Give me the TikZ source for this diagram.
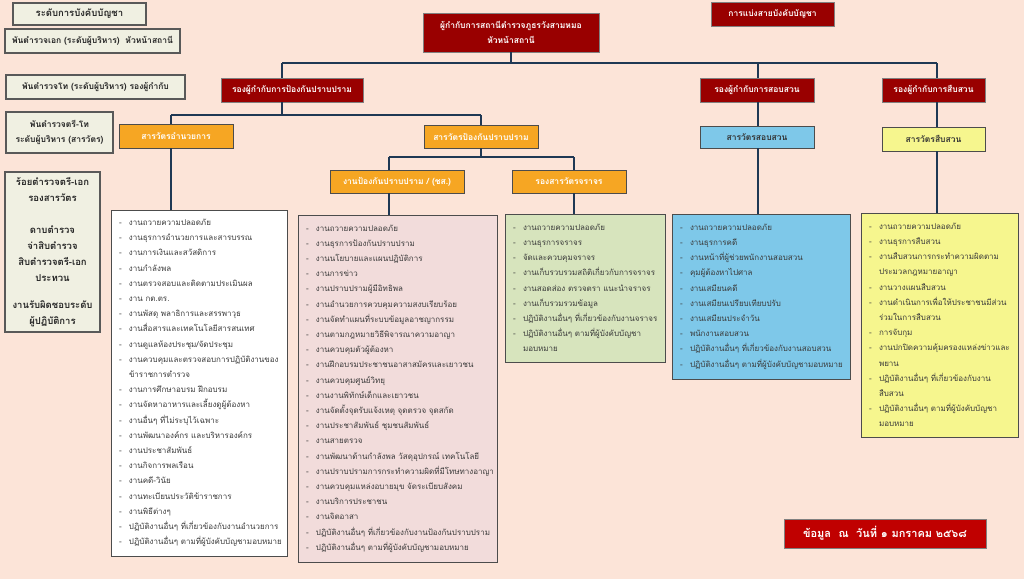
\documentclass[tikz,border=0pt]{standalone}
\usepackage{fontspec}
\setmainfont[Script=Thai]{Loma}
\usetikzlibrary{positioning}
\definecolor{peach}{RGB}{252,228,216}
\definecolor{chiefred}{RGB}{153,0,0}
\definecolor{datered}{RGB}{192,0,0}
\definecolor{secorange}{RGB}{246,166,35}
\definecolor{secblue}{RGB}{126,200,233}
\definecolor{secyellow}{RGB}{246,246,142}
\definecolor{rankfill}{RGB}{240,240,226}
\definecolor{listpink}{RGB}{242,220,219}
\definecolor{listgreen}{RGB}{215,228,189}
\definecolor{linkblue}{RGB}{31,56,84}
\definecolor{txtgray}{RGB}{58,58,58}
\newcommand{\itm}[1]{\mbox{\makebox[10pt][l]{-}#1}}
\newcommand{\cnt}[1]{\mbox{\hspace*{10pt}#1}}
\tikzset{
    rankbox/.style={draw=black!65, line width=1.1pt, fill=rankfill, text=black!85,
        align=center, inner sep=0pt, font=\bfseries\fontsize{8.5}{15}\selectfont},
    chief/.style={draw=black!50, line width=0.6pt, fill=chiefred, text=white,
        align=center, inner sep=0pt, font=\bfseries\fontsize{8.5}{15}\selectfont},
    secbox/.style={draw=black!70, line width=0.8pt, text=white,
        align=center, inner sep=0pt, font=\bfseries\fontsize{8.5}{15}\selectfont},
    duties/.style={draw=black!70, line width=0.9pt, text=txtgray, align=left,
        inner ysep=0pt, inner xsep=8pt, font=\fontsize{8}{15.2}\selectfont},
    link/.style={draw=linkblue, line width=2.2pt},
}
\begin{document}
\begin{tikzpicture}[x=1pt, y=-1pt]
	\useasboundingbox[fill=peach] (0,0) rectangle (1024,579);
	% legend of ranks
	\node[rankbox, minimum width=133, minimum height=22, font=\bfseries\fontsize{9.5}{15}\selectfont] (rank0) at (79.5,14) {ระดับการบังคับบัญชา};
	\node[rankbox, minimum width=175, minimum height=24] (rank1) at (92.5,41) {พันตำรวจเอก (ระดับผู้บริหาร)~~หัวหน้าสถานี};
	\node[rankbox, minimum width=179, minimum height=24] (rank2) at (95.5,87) {พันตำรวจโท (ระดับผู้บริหาร) รองผู้กำกับ};
	\node[rankbox, minimum width=107, minimum height=41] (rank3) at (59.5,132.5) {พันตำรวจตรี-โท\\ระดับผู้บริหาร (สารวัตร)};
	\node[rankbox, minimum width=95, minimum height=160, font=\bfseries\fontsize{9.5}{16}\selectfont] (rank4) at (52.5,252)
		{ร้อยตำรวจตรี-เอก\\รองสารวัตร\\[16pt]ดาบตำรวจ\\จ่าสิบตำรวจ\\สิบตำรวจตรี-เอก\\ประทวน\\[11pt]งานรับผิดชอบระดับ\\ผู้ปฏิบัติการ};
	% chain of command
	\node[chief, minimum width=176, minimum height=39] (top) at (511,32.5) {ผู้กำกับการสถานีตำรวจภูธรวังสามหมอ\\หัวหน้าสถานี};
	\node[chief, minimum width=123, minimum height=24] (title) at (772.5,14) {การแบ่งสายบังคับบัญชา};
	\node[chief, minimum width=142, minimum height=24] (dep1) at (292,90) {รองผู้กำกับการป้องกันปราบปราม};
	\node[chief, minimum width=114, minimum height=24] (dep2) at (757,90) {รองผู้กำกับการสอบสวน};
	\node[chief, minimum width=103, minimum height=24] (dep3) at (933.5,90) {รองผู้กำกับการสืบสวน};
	\node[secbox, fill=secorange, minimum width=114, minimum height=24] (sec1) at (176,136) {สารวัตรอำนวยการ};
	\node[secbox, fill=secorange, minimum width=114, minimum height=23] (sec2) at (481,136.5) {สารวัตรป้องกันปราบปราม};
	\node[secbox, fill=secblue, text=black!80, minimum width=114, minimum height=22] (sec3) at (757,137) {สารวัตรสอบสวน};
	\node[secbox, fill=secyellow, text=black!80, minimum width=103, minimum height=24] (sec4) at (933.5,139) {สารวัตรสืบสวน};
	\node[secbox, fill=secorange, minimum width=134, minimum height=23] (unit1) at (397,181.5) {งานป้องกันปราบปราม / (ชส.)};
	\node[secbox, fill=secorange, minimum width=114, minimum height=23] (unit2) at (569,181.5) {รองสารวัตรจราจร};
	% duties
	\node[duties, fill=white, text width=160pt, minimum height=346] (list1) at (199,383) {%
		\itm{งานถวายความปลอดภัย}\\
		\itm{งานธุรการอำนวยการและสารบรรณ}\\
		\itm{งานการเงินและสวัสดิการ}\\
		\itm{งานกำลังพล}\\
		\itm{งานตรวจสอบและติดตามประเมินผล}\\
		\itm{งาน กต.ตร.}\\
		\itm{งานพัสดุ พลาธิการและสรรพาวุธ}\\
		\itm{งานสื่อสารและเทคโนโลยีสารสนเทศ}\\
		\itm{งานดูแลห้องประชุม/จัดประชุม}\\
		\itm{งานควบคุมและตรวจสอบการปฏิบัติงานของ}\\
		\cnt{ข้าราชการตำรวจ}\\
		\itm{งานการศึกษาอบรม ฝึกอบรม}\\
		\itm{งานจัดหาอาหารและเลี้ยงดูผู้ต้องหา}\\
		\itm{งานอื่นๆ ที่ไม่ระบุไว้เฉพาะ}\\
		\itm{งานพัฒนาองค์กร และบริหารองค์กร}\\
		\itm{งานประชาสัมพันธ์}\\
		\itm{งานกิจการพลเรือน}\\
		\itm{งานคดี-วินัย}\\
		\itm{งานทะเบียนประวัติข้าราชการ}\\
		\itm{งานพิธีต่างๆ}\\
		\itm{ปฏิบัติงานอื่นๆ ที่เกี่ยวข้องกับงานอำนวยการ}\\
		\itm{ปฏิบัติงานอื่นๆ ตามที่ผู้บังคับบัญชามอบหมาย}};
	\node[duties, fill=listpink, text width=183pt, minimum height=347] (list2) at (397.5,388.5) {%
		\itm{งานถวายความปลอดภัย}\\
		\itm{งานธุรการป้องกันปราบปราม}\\
		\itm{งานนโยบายและแผนปฏิบัติการ}\\
		\itm{งานการข่าว}\\
		\itm{งานปราบปรามผู้มีอิทธิพล}\\
		\itm{งานอำนวยการควบคุมความสงบเรียบร้อย}\\
		\itm{งานจัดทำแผนที่ระบบข้อมูลอาชญากรรม}\\
		\itm{งานตามกฎหมายวิธีพิจารณาความอาญา}\\
		\itm{งานควบคุมตัวผู้ต้องหา}\\
		\itm{งานฝึกอบรมประชาชนอาสาสมัครและเยาวชน}\\
		\itm{งานควบคุมศูนย์วิทยุ}\\
		\itm{งานงานพิทักษ์เด็กและเยาวชน}\\
		\itm{งานจัดตั้งจุดรับแจ้งเหตุ จุดตรวจ จุดสกัด}\\
		\itm{งานประชาสัมพันธ์ ชุมชนสัมพันธ์}\\
		\itm{งานสายตรวจ}\\
		\itm{งานพัฒนาด้านกำลังพล วัสดุอุปกรณ์ เทคโนโลยี}\\
		\itm{งานปราบปรามการกระทำความผิดที่มีโทษทางอาญา}\\
		\itm{งานควบคุมแหล่งอบายมุข จัดระเบียบสังคม}\\
		\itm{งานบริการประชาชน}\\
		\itm{งานจิตอาสา}\\
		\itm{ปฏิบัติงานอื่นๆ ที่เกี่ยวข้องกับงานป้องกันปราบปราม}\\
		\itm{ปฏิบัติงานอื่นๆ ตามที่ผู้บังคับบัญชามอบหมาย}};
	\node[duties, fill=listgreen, text width=144pt, minimum height=148] (list3) at (585,288) {%
		\itm{งานถวายความปลอดภัย}\\
		\itm{งานธุรการจราจร}\\
		\itm{จัดและควบคุมจราจร}\\
		\itm{งานเก็บรวบรวมสถิติเกี่ยวกับการจราจร}\\
		\itm{งานสอดส่อง ตรวจตรา แนะนำจราจร}\\
		\itm{งานเก็บรวมรวมข้อมูล}\\
		\itm{ปฏิบัติงานอื่นๆ ที่เกี่ยวข้องกับงานจราจร}\\
		\itm{ปฏิบัติงานอื่นๆ ตามที่ผู้บังคับบัญชา}\\
		\cnt{มอบหมาย}};
	\node[duties, fill=secblue, text width=162pt, minimum height=165] (list4) at (761,296.5) {%
		\itm{งานถวายความปลอดภัย}\\
		\itm{งานธุรการคดี}\\
		\itm{งานหน้าที่ผู้ช่วยพนักงานสอบสวน}\\
		\itm{คุมผู้ต้องหาไปศาล}\\
		\itm{งานเสมียนคดี}\\
		\itm{งานเสมียนเปรียบเทียบปรับ}\\
		\itm{งานเสมียนประจำวัน}\\
		\itm{พนักงานสอบสวน}\\
		\itm{ปฏิบัติงานอื่นๆ ที่เกี่ยวข้องกับงานสอบสวน}\\
		\itm{ปฏิบัติงานอื่นๆ ตามที่ผู้บังคับบัญชามอบหมาย}};
	\node[duties, fill=secyellow, text width=141pt, minimum height=224] (list5) at (939.5,325) {%
		\itm{งานถวายความปลอดภัย}\\
		\itm{งานธุรการสืบสวน}\\
		\itm{งานสืบสวนการกระทำความผิดตาม}\\
		\cnt{ประมวลกฎหมายอาญา}\\
		\itm{งานวางแผนสืบสวน}\\
		\itm{งานดำเนินการเพื่อให้ประชาชนมีส่วน}\\
		\cnt{ร่วมในการสืบสวน}\\
		\itm{การจับกุม}\\
		\itm{งานปกปิดความคุ้มครองแหล่งข่าวและ}\\
		\cnt{พยาน}\\
		\itm{ปฏิบัติงานอื่นๆ ที่เกี่ยวข้องกับงาน}\\
		\cnt{สืบสวน}\\
		\itm{ปฏิบัติงานอื่นๆ ตามที่ผู้บังคับบัญชา}\\
		\cnt{มอบหมาย}};
	\node[chief, fill=datered, minimum width=202, minimum height=29, font=\bfseries\fontsize{11}{15}\selectfont] (date) at (885,533.5)
		{ข้อมูล~~ณ~~วันที่ ๑ มกราคม ๒๕๖๘};
	% connectors
	\coordinate (busL) at (282,63);
	\coordinate (busM) at (758,63);
	\coordinate (busR) at (937,63);
	\coordinate (joinL) at (171,115);
	\coordinate (joinR) at (481,115);
	\coordinate (forkL) at (389,157);
	\coordinate (forkR) at (574,157);
	\draw[link] (top.south) -- (top.south |- busL);
	\draw[link] (busL) -- (busR);
	\draw[link] (busL) -- (busL |- dep1.north);
	\draw[link] (busM) -- (busM |- dep2.north);
	\draw[link] (busR) -- (busR |- dep3.north);
	\draw[link] (busL |- dep1.south) -- (busL |- joinL);
	\draw[link] (joinL) -- (joinR);
	\draw[link] (joinL) -- (joinL |- sec1.north);
	\draw[link] (joinL |- sec1.south) -- (joinL |- list1.north);
	\draw[link] (joinR) -- (joinR |- sec2.north);
	\draw[link] (joinR |- sec2.south) -- (joinR |- forkL);
	\draw[link] (forkL) -- (forkR);
	\draw[link] (forkL) -- (forkL |- unit1.north);
	\draw[link] (forkR) -- (forkR |- unit2.north);
	\draw[link] (forkL |- unit1.south) -- (forkL |- list2.north);
	\draw[link] (forkR |- unit2.south) -- (forkR |- list3.north);
	\draw[link] (busM |- dep2.south) -- (busM |- sec3.north);
	\draw[link] (busM |- sec3.south) -- (busM |- list4.north);
	\draw[link] (busR |- dep3.south) -- (busR |- sec4.north);
	\draw[link] (busR |- sec4.south) -- (busR |- list5.north);
\end{tikzpicture}
\end{document}
